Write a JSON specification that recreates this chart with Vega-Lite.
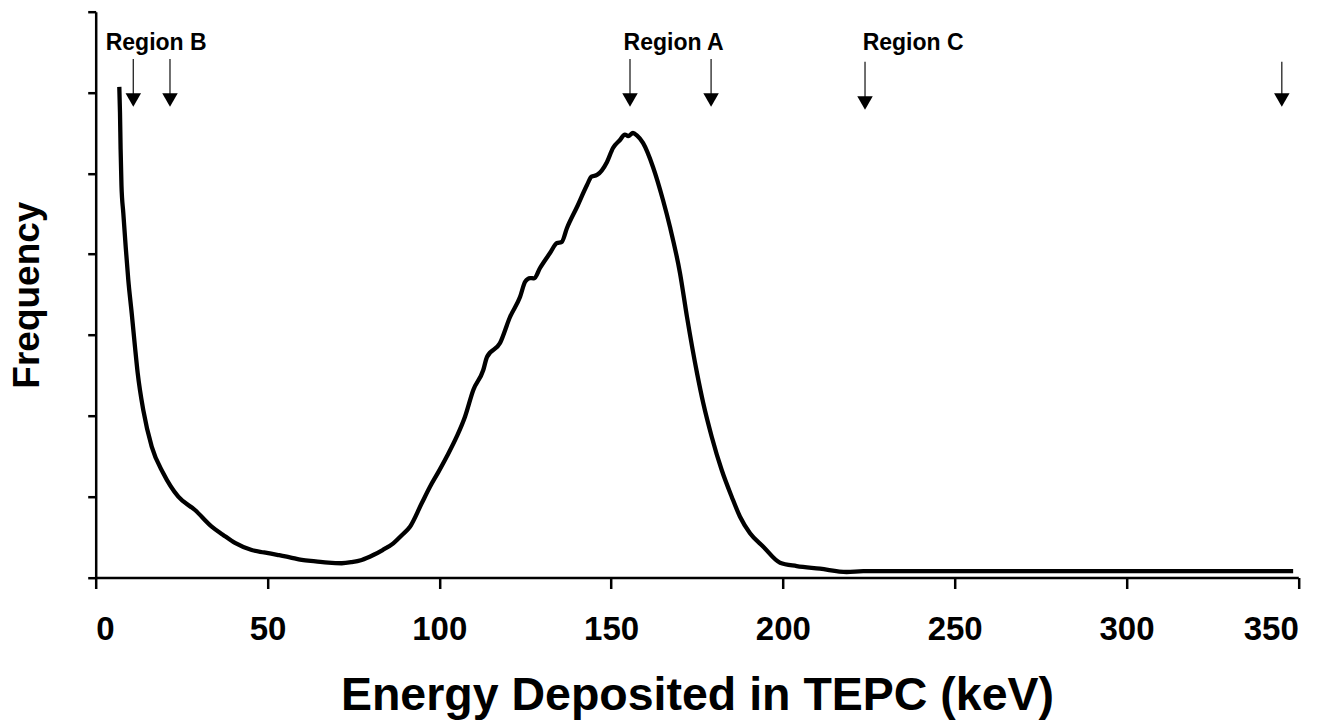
{
  "$schema": "https://vega.github.io/schema/vega-lite/v6.json",
  "width": 1202.6,
  "height": 565.8,
  "autosize": {"type": "none"},
  "padding": {"left": 95.7, "top": 11.7, "right": 45.7, "bottom": 149.5},
  "background": "white",
  "config": {
    "view": {"stroke": null},
    "font": "Liberation Sans",
    "axis": {
      "domainColor": "black", "domainWidth": 2.5, "tickColor": "black", "tickWidth": 2.5,
      "grid": false, "labelFont": "Liberation Sans", "titleFont": "Liberation Sans",
      "labelFontWeight": "bold", "titleFontWeight": "bold", "labelColor": "black", "titleColor": "black"
    }
  },
  "datasets": {
    "curve": [
      {"x": 6.87, "y": 6.07}, {"x": 7.07, "y": 5.75}, {"x": 7.25, "y": 5.3}, {"x": 7.5, "y": 4.85}, {"x": 8.03, "y": 4.51},
      {"x": 8.73, "y": 4.09}, {"x": 9.49, "y": 3.68}, {"x": 10.48, "y": 3.27}, {"x": 11.44, "y": 2.85},
      {"x": 12.22, "y": 2.53}, {"x": 13.85, "y": 2.07}, {"x": 16.30, "y": 1.62},
      {"x": 19.67, "y": 1.29}, {"x": 24.04, "y": 1.00}, {"x": 28.90, "y": 0.835}, {"x": 33.76, "y": 0.63},
      {"x": 37.0, "y": 0.53}, {"x": 40.54, "y": 0.427}, {"x": 45.40, "y": 0.34}, {"x": 49.0, "y": 0.31},
      {"x": 53.14, "y": 0.278}, {"x": 56.5, "y": 0.25}, {"x": 59.95, "y": 0.217}, {"x": 64.0, "y": 0.20},
      {"x": 67.69, "y": 0.183}, {"x": 71.60, "y": 0.176}, {"x": 74.5, "y": 0.19}, {"x": 77.42, "y": 0.217},
      {"x": 80.79, "y": 0.278}, {"x": 83.5, "y": 0.34}, {"x": 86.61, "y": 0.423}, {"x": 89.0, "y": 0.52},
      {"x": 91.47, "y": 0.628}, {"x": 94.88, "y": 0.918}, {"x": 97.29, "y": 1.123}, {"x": 99.8, "y": 1.31},
      {"x": 102.15, "y": 1.494}, {"x": 105.06, "y": 1.742}, {"x": 107.48, "y": 1.989}, {"x": 109.90, "y": 2.32},
      {"x": 112.80, "y": 2.567}, {"x": 113.88, "y": 2.728}, {"x": 117.67, "y": 2.901}, {"x": 120.58, "y": 3.223},
      {"x": 123.49, "y": 3.47}, {"x": 125.0, "y": 3.66}, {"x": 126.40, "y": 3.705}, {"x": 127.6, "y": 3.70},
      {"x": 129.31, "y": 3.829}, {"x": 132.22, "y": 4.014}, {"x": 134.25, "y": 4.138}, {"x": 135.6, "y": 4.15},
      {"x": 137.16, "y": 4.324}, {"x": 140.07, "y": 4.584}, {"x": 142.99, "y": 4.856}, {"x": 144.3, "y": 4.96},
      {"x": 145.90, "y": 4.98}, {"x": 148.81, "y": 5.141}, {"x": 150.55, "y": 5.314}, {"x": 152.59, "y": 5.413},
      {"x": 154.0, "y": 5.48}, {"x": 155.0, "y": 5.46}, {"x": 156.37, "y": 5.499}, {"x": 157.5, "y": 5.47},
      {"x": 159.28, "y": 5.376}, {"x": 162.19, "y": 5.079}, {"x": 165.10, "y": 4.67}, {"x": 167.14, "y": 4.336},
      {"x": 170.05, "y": 3.767}, {"x": 172.09, "y": 3.223}, {"x": 175.0, "y": 2.53}, {"x": 176.83, "y": 2.155},
      {"x": 179.28, "y": 1.742}, {"x": 182.19, "y": 1.33}, {"x": 185.10, "y": 1.0}, {"x": 187.52, "y": 0.752},
      {"x": 190.43, "y": 0.547}, {"x": 194.29, "y": 0.381}, {"x": 199.16, "y": 0.183}, {"x": 204.02, "y": 0.142},
      {"x": 210.80, "y": 0.109}, {"x": 218.57, "y": 0.068}, {"x": 223.40, "y": 0.08}, {"x": 260.0, "y": 0.08},
      {"x": 300.0, "y": 0.08}, {"x": 348.5, "y": 0.08}
    ],
    "arrows": [
      {"x": 10.94, "top": 6.415, "head": 5.907},
      {"x": 21.62, "top": 6.415, "head": 5.907},
      {"x": 155.5, "top": 6.415, "head": 5.907},
      {"x": 179.1, "top": 6.415, "head": 5.907},
      {"x": 223.9, "top": 6.38, "head": 5.87},
      {"x": 345.2, "top": 6.38, "head": 5.907}
    ],
    "labels": [
      {"x": 17.6, "y": 6.526, "text": "Region B"},
      {"x": 168.2, "y": 6.526, "text": "Region A"},
      {"x": 237.9, "y": 6.526, "text": "Region C"}
    ]
  },
  "layer": [
    {
      "data": {"name": "curve"},
      "mark": {"type": "line", "color": "black", "strokeWidth": 4.3, "interpolate": "monotone"},
      "encoding": {
        "x": {"field": "x", "type": "quantitative",
          "scale": {"domain": [0, 350], "nice": false},
          "axis": {"values": [0, 50, 100, 150, 200, 250, 300, 350], "tickSize": 11, "labelFontSize": 33,
            "labelPadding": 25, "title": "Energy Deposited in TEPC (keV)", "titleFontSize": 46.5, "titlePadding": 26}},
        "y": {"field": "y", "type": "quantitative",
          "scale": {"domain": [0, 7], "nice": false},
          "axis": {"values": [0, 1, 2, 3, 4, 5, 6, 7], "tickSize": 8, "labels": false,
            "title": "Frequency", "titleFontSize": 37, "titlePadding": 40}}
      }
    },
    {
      "data": {"name": "arrows"},
      "mark": {"type": "rule", "color": "#222", "strokeWidth": 1.3},
      "encoding": {
        "x": {"field": "x", "type": "quantitative"},
        "y": {"field": "top", "type": "quantitative"},
        "y2": {"field": "head"}
      }
    },
    {
      "data": {"name": "arrows"},
      "mark": {"type": "point", "shape": "triangle-down", "filled": true, "color": "black", "size": 240, "opacity": 1},
      "encoding": {
        "x": {"field": "x", "type": "quantitative"},
        "y": {"field": "head", "type": "quantitative"}
      }
    },
    {
      "data": {"name": "labels"},
      "mark": {"type": "text", "font": "Liberation Sans", "fontWeight": "bold", "fontSize": 23, "color": "black", "baseline": "alphabetic", "align": "center"},
      "encoding": {
        "x": {"field": "x", "type": "quantitative"},
        "y": {"field": "y", "type": "quantitative"},
        "text": {"field": "text"}
      }
    }
  ]
}
